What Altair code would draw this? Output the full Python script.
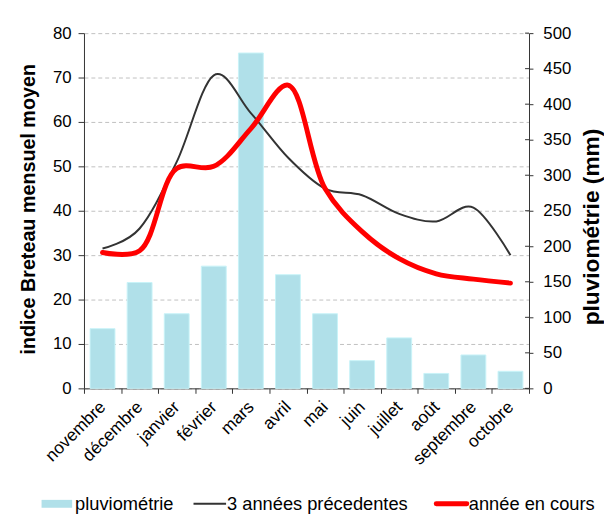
import altair as alt
import pandas as pd

months = ["novembre", "décembre", "janvier", "février", "mars", "avril",
          "mai", "juin", "juillet", "août", "septembre", "octobre"]
rain_mm = [84, 149, 105, 172, 472, 160, 105, 39, 71, 21, 47, 24]
prev3 = [31.5, 36, 51, 70.5, 62, 52, 45, 43.5, 39.3, 37.6, 40.7, 30]
current = [30.6, 31, 49.5, 50, 58.5, 68.3, 45, 35.3, 29.2, 25.8, 24.6, 23.7]
left_ticks = [0, 10, 20, 30, 40, 50, 60, 70, 80]
right_ticks = [0, 50, 100, 150, 200, 250, 300, 350, 400, 450, 500]
legend_labels = ["pluviométrie", "3 années précedentes", "année en cours"]

FONT = "Liberation Sans"
W, H = 451, 360

df = pd.DataFrame({"mois": months, "pluie": rain_mm,
                   "prec": prev3, "cours": current})
ticks_df = pd.DataFrame({"v": right_ticks})

xenc = alt.X("mois:N", sort=months,
             scale=alt.Scale(paddingInner=0, paddingOuter=0),
             axis=alt.Axis(title=None, labelAngle=315, labelAlign="right",
                           labelBaseline="middle", labelFont=FONT, labelFontSize=17.5,
                           labelColor="#000", labelPadding=11, tickBand="extent",
                           tickSize=5, tickColor="#333", domainColor="#333",
                           grid=False, labelOverlap=False, labelBound=False))

yright = alt.Scale(domain=[0, 500], nice=False, zero=True)
yleft = alt.Scale(domain=[0, 80], nice=False)

right_axis = alt.Axis(orient="right", values=right_ticks, title="pluviométrie (mm)",
                      titleFont=FONT, titleFontSize=23, titleFontWeight="bold",
                      titleAngle=270, titleX=70, titleY=196, titleAlign="center",
                      titleBaseline="alphabetic", titleColor="#000",
                      labelFont=FONT, labelFontSize=17, labelColor="#000",
                      labelPadding=10, tickSize=4, tickColor="#333",
                      labelOverlap=False, labelBound=False, tickCount=11,
                      domainColor="#333", grid=False)

bars = alt.Chart(df).mark_bar(
    width=alt.RelativeBandSize(0.67), color="#b0e0e9",
    stroke="#c8f3f8", strokeWidth=1
).encode(
    x=xenc,
    y=alt.Y("pluie:Q", scale=yright, axis=right_axis)
)

rticks = alt.Chart(ticks_df).mark_rule(color="#333", strokeWidth=1).encode(
    y=alt.Y("v:Q", scale=yright, axis=right_axis),
    x=alt.value(W - 4), x2=alt.value(W)
)

lbase = alt.Chart(df).encode(x=alt.X("mois:N", sort=months))

prev_line = lbase.mark_line(interpolate="cardinal", color="#333333", strokeWidth=2).encode(
    y=alt.Y("prec:Q", scale=yleft,
            axis=alt.Axis(orient="left", values=left_ticks,
                          title="indice Breteau mensuel moyen",
                          titleFont=FONT, titleFontSize=20, titleFontWeight="bold",
                          titleAngle=270, titleX=-50, titleY=H / 2 - 2, titleAlign="center",
                          titleBaseline="alphabetic", titleColor="#000",
                          labelFont=FONT, labelFontSize=17, labelColor="#000",
                          labelPadding=7, tickSize=6, tickColor="#333",
                          labelOverlap=False, labelBound=False,
                          domainColor="#333", grid=True, gridColor="#c0c0c0",
                          gridDash=[4, 3], gridWidth=1))
)
cur_line = lbase.mark_line(interpolate="catmull-rom", color="#ff0000", strokeWidth=5,
                           strokeCap="round").encode(
    y=alt.Y("cours:Q", scale=yleft)
)

one = pd.DataFrame({"k": [0]})
LY = 477
leg = [
    alt.Chart(one).mark_rect(color="#b0e0e9").encode(
        x=alt.value(-43), x2=alt.value(-12), y=alt.value(LY - 4), y2=alt.value(LY + 4)),
    alt.Chart(one).mark_text(align="left", baseline="middle", font=FONT, fontSize=18.5,
                             color="#000").encode(
        x=alt.value(-9), y=alt.value(LY), text=alt.value(legend_labels[0])),
    alt.Chart(one).mark_rule(color="#333333", strokeWidth=2).encode(
        x=alt.value(111), x2=alt.value(144), y=alt.value(LY)),
    alt.Chart(one).mark_text(align="left", baseline="middle", font=FONT, fontSize=18.5,
                             color="#000").encode(
        x=alt.value(145), y=alt.value(LY), text=alt.value(legend_labels[1])),
    alt.Chart(one).mark_rule(color="#ff0000", strokeWidth=5, strokeCap="round").encode(
        x=alt.value(357), x2=alt.value(388), y=alt.value(LY)),
    alt.Chart(one).mark_text(align="left", baseline="middle", font=FONT, fontSize=18.5,
                             color="#000").encode(
        x=alt.value(390), y=alt.value(LY), text=alt.value(legend_labels[2])),
]

chart = alt.layer(
    alt.layer(bars, rticks),
    alt.layer(prev_line, cur_line, *leg),
).resolve_scale(y="independent").properties(
    width=W, height=H,
    autosize=alt.AutoSizeParams(type="none"),
    padding={"left": 77, "top": 22, "right": 76, "bottom": 135},
    background="#ffffff",
).configure_view(stroke=None)

chart.save("out.html", embed_options={"renderer": "svg", "actions": False})
